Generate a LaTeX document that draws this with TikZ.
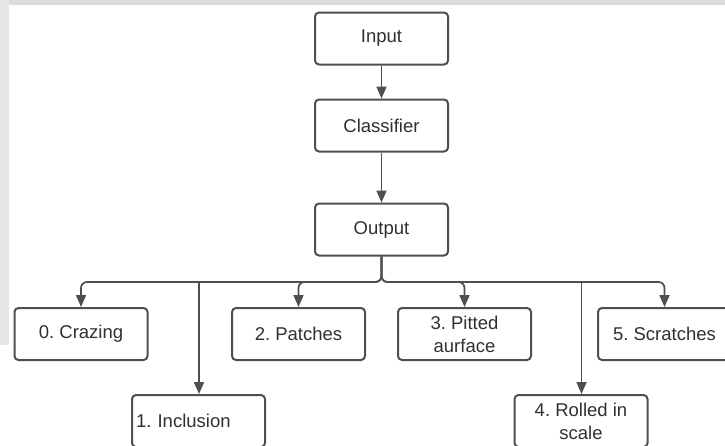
\documentclass[tikz,border=0pt]{standalone}
\usepackage{fontspec}
\setmainfont{Liberation Sans}
\usetikzlibrary{arrows.meta}
\definecolor{edgec}{HTML}{4F4F4F}
\definecolor{txtc}{HTML}{303030}
\definecolor{bgc}{HTML}{DCDCDC}
\frenchspacing
\begin{document}
\begin{tikzpicture}[x=1pt,y=-1pt,
  box/.style={draw=edgec, line width=2pt, rounded corners=4pt, fill=white,
    minimum width=133pt, minimum height=52pt, text=txtc,
    font=\fontsize{18.5}{23}\selectfont, align=center, inner sep=0pt},
  leftbox/.style={box, align=left, text width=125pt, inner xsep=4pt},
  conn/.style={draw=edgec, line width=1.7pt, rounded corners=6pt,
    -{Triangle[width=10pt,length=12pt]}}]
\useasboundingbox (0,0) rectangle (725,445);
\clip (0,0) rectangle (725,445);
\fill[white] (0,0) rectangle (725,445);
\fill[bgc] (0,0) rectangle (725,5);
\fill[bgc!70] (0,0) rectangle (9,345);

\node[box] (in)  at (381.5,38.5)  {Input};
\node[box] (cl)  at (381.5,125.5) {Classifier};
\node[box] (out) at (381.5,229.5) {Output};

\node[box] (cz) at (81,334)    {0. Crazing};
\node[box] (pa) at (298.5,334) {2. Patches};
\node[box] (pi) at (464.5,334) {3. Pitted\\aurface};
\node[box] (sc) at (664.5,334) {5. Scratches};

\node[leftbox] (inc) at (198.5,421) {1. Inclusion};
\node[box] (ro) at (581,421) {4. Rolled in\\scale};

\coordinate (hb) at (381.5,282);

\draw[conn] (in) -- (cl);
\draw[conn] (cl) -- (out);
\draw[conn] (out.south) -- (hb) -| (cz.north);
\draw[conn] (out.south) -- (hb) -| (pa.north);
\draw[conn] (out.south) -- (hb) -| (pi.north);
\draw[conn] (out.south) -- (hb) -| (sc.north);
\coordinate (hinc) at ([xshift=0.5pt]inc.north |- hb);
\coordinate (hro) at ([xshift=0.5pt]ro.north |- hb);
\draw[conn] (hinc) -- ([xshift=0.5pt]inc.north);
\draw[conn] (hro) -- ([xshift=0.5pt]ro.north);
\end{tikzpicture}
\end{document}
